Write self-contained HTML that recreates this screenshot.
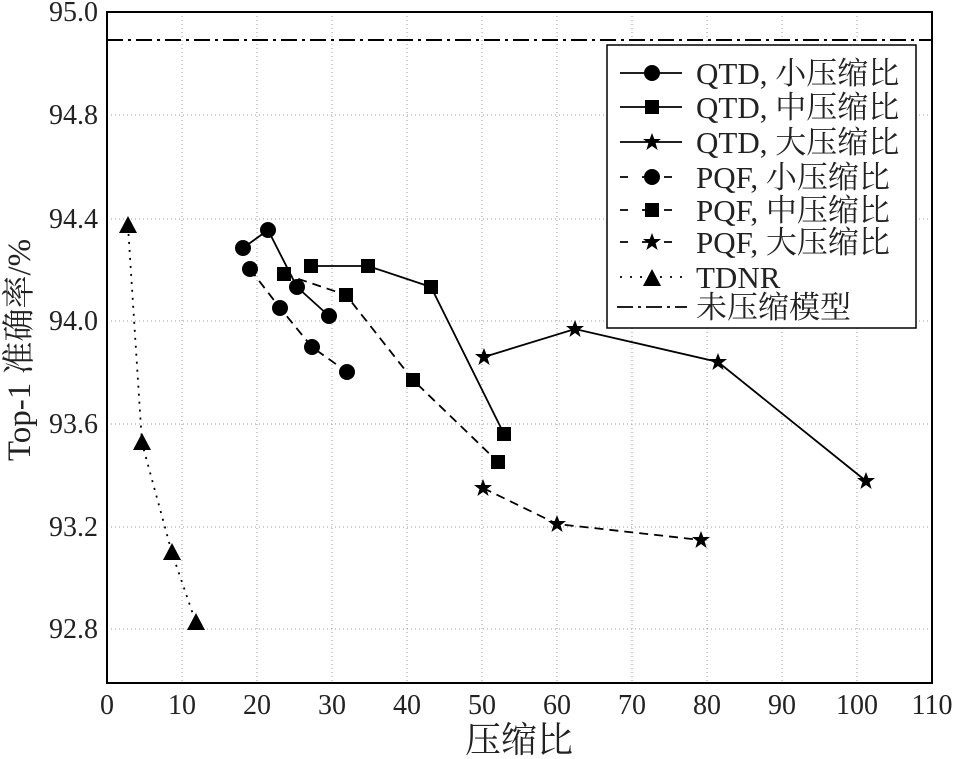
<!DOCTYPE html>
<html><head><meta charset="utf-8"><style>body{margin:0;background:#fff}svg{display:block}</style></head><body>
<svg width="959" height="759" xmlns="http://www.w3.org/2000/svg" font-family="'Liberation Serif','Noto Serif CJK SC',serif">
<g stroke="#999" stroke-width="1" stroke-dasharray="1,3">
<line x1="182" y1="12" x2="182" y2="683"/><line x1="257" y1="12" x2="257" y2="683"/><line x1="332" y1="12" x2="332" y2="683"/><line x1="407" y1="12" x2="407" y2="683"/><line x1="482" y1="12" x2="482" y2="683"/><line x1="557" y1="12" x2="557" y2="683"/><line x1="632" y1="12" x2="632" y2="683"/><line x1="707" y1="12" x2="707" y2="683"/><line x1="782" y1="12" x2="782" y2="683"/><line x1="857" y1="12" x2="857" y2="683"/>
<line x1="107" y1="115" x2="932" y2="115"/><line x1="107" y1="219" x2="932" y2="219"/><line x1="107" y1="321" x2="932" y2="321"/><line x1="107" y1="424" x2="932" y2="424"/><line x1="107" y1="527" x2="932" y2="527"/><line x1="107" y1="629" x2="932" y2="629"/>
</g>
<rect x="107" y="12" width="825" height="671" fill="none" stroke="#000" stroke-width="2"/>
<g font-size="28" text-anchor="end" fill="#222">
<text x="98" y="21">95.0</text><text x="98" y="124">94.8</text><text x="98" y="228">94.4</text><text x="98" y="330">94.0</text><text x="98" y="433">93.6</text><text x="98" y="536">93.2</text><text x="98" y="638">92.8</text>
</g>
<g font-size="28" text-anchor="middle" fill="#222">
<text x="107" y="714">0</text><text x="182" y="714">10</text><text x="257" y="714">20</text><text x="332" y="714">30</text><text x="407" y="714">40</text><text x="482" y="714">50</text><text x="557" y="714">60</text><text x="632" y="714">70</text><text x="707" y="714">80</text><text x="782" y="714">90</text><text x="857" y="714">100</text><text x="932" y="714">110</text>
<text x="519" y="752" font-size="36">压缩比</text>
<text transform="translate(30,350) rotate(-90)" font-size="33">Top-1 准确率/%</text>
</g>
<line x1="107" y1="40" x2="932" y2="40" stroke="#000" stroke-width="2" stroke-dasharray="16,5,3,5"/>
<defs>
<circle id="c" r="8" fill="#000"/>
<rect id="s" x="-7" y="-7" width="14" height="14" fill="#000"/>
<polygon id="t" points="0,-9 2.3,-3 9,-3 3.6,1.2 5.6,8 0,4 -5.6,8 -3.6,1.2 -9,-3 -2.3,-3" fill="#000"/>
<polygon id="g" points="0,-10 9,7 -9,7" fill="#000"/>
</defs>
<g fill="none" stroke="#000" stroke-width="1.8">
<polyline points="243,248 268,230 297,287 329,316"/>
<polyline points="311,266 368,266 431,287 504,434"/>
<polyline points="484,357 575,329 718,362 866,481"/>
<polyline stroke-dasharray="9,6" points="250,269 280,308 312,347 347,372"/>
<polyline stroke-dasharray="9,6" points="284,274 346,295 413,380 498,462"/>
<polyline stroke-dasharray="9,6" points="483,488 557,524 701,540"/>
<polyline stroke-dasharray="2,6" points="128,226 142,443 172,553 196,623"/>
</g>
<use href="#c" x="243" y="248"/><use href="#c" x="268" y="230"/><use href="#c" x="297" y="287"/><use href="#c" x="329" y="316"/>
<use href="#c" x="250" y="269"/><use href="#c" x="280" y="308"/><use href="#c" x="312" y="347"/><use href="#c" x="347" y="372"/>
<use href="#s" x="311" y="266"/><use href="#s" x="368" y="266"/><use href="#s" x="431" y="287"/><use href="#s" x="504" y="434"/>
<use href="#s" x="284" y="274"/><use href="#s" x="346" y="295"/><use href="#s" x="413" y="380"/><use href="#s" x="498" y="462"/>
<use href="#t" x="484" y="357"/><use href="#t" x="575" y="329"/><use href="#t" x="718" y="362"/><use href="#t" x="866" y="481"/>
<use href="#t" x="483" y="488"/><use href="#t" x="557" y="524"/><use href="#t" x="701" y="540"/>
<use href="#g" x="128" y="226"/><use href="#g" x="142" y="443"/><use href="#g" x="172" y="553"/><use href="#g" x="196" y="623"/>
<rect x="607" y="45" width="309" height="283" fill="#fff" stroke="#000" stroke-width="1.5"/>
<g stroke="#000" stroke-width="1.8" fill="none">
<line x1="620" y1="73" x2="682" y2="73"/><line x1="620" y1="107" x2="682" y2="107"/><line x1="620" y1="142" x2="682" y2="142"/>
<line x1="620" y1="177" x2="682" y2="177" stroke-dasharray="8,14"/><line x1="620" y1="210" x2="682" y2="210" stroke-dasharray="8,14"/><line x1="620" y1="242" x2="682" y2="242" stroke-dasharray="8,14"/>
<line x1="620" y1="277" x2="682" y2="277" stroke-dasharray="2,8"/>
<line x1="617" y1="307" x2="687" y2="307" stroke-dasharray="16,5,3,5"/>
</g>
<use href="#c" x="652" y="73"/><use href="#s" x="652" y="107"/><use href="#t" x="652" y="142"/>
<use href="#c" x="652" y="177"/><use href="#s" x="652" y="210"/><use href="#t" x="652" y="242"/><use href="#g" x="652" y="279"/>
<g font-size="31" fill="#222">
<text x="696" y="84">QTD, 小压缩比</text><text x="696" y="118">QTD, 中压缩比</text><text x="696" y="153">QTD, 大压缩比</text>
<text x="696" y="188">PQF, 小压缩比</text><text x="696" y="221">PQF, 中压缩比</text><text x="696" y="253">PQF, 大压缩比</text>
<text x="696" y="288">TDNR</text><text x="696" y="318">未压缩模型</text>
</g>
</svg>
</body></html>
